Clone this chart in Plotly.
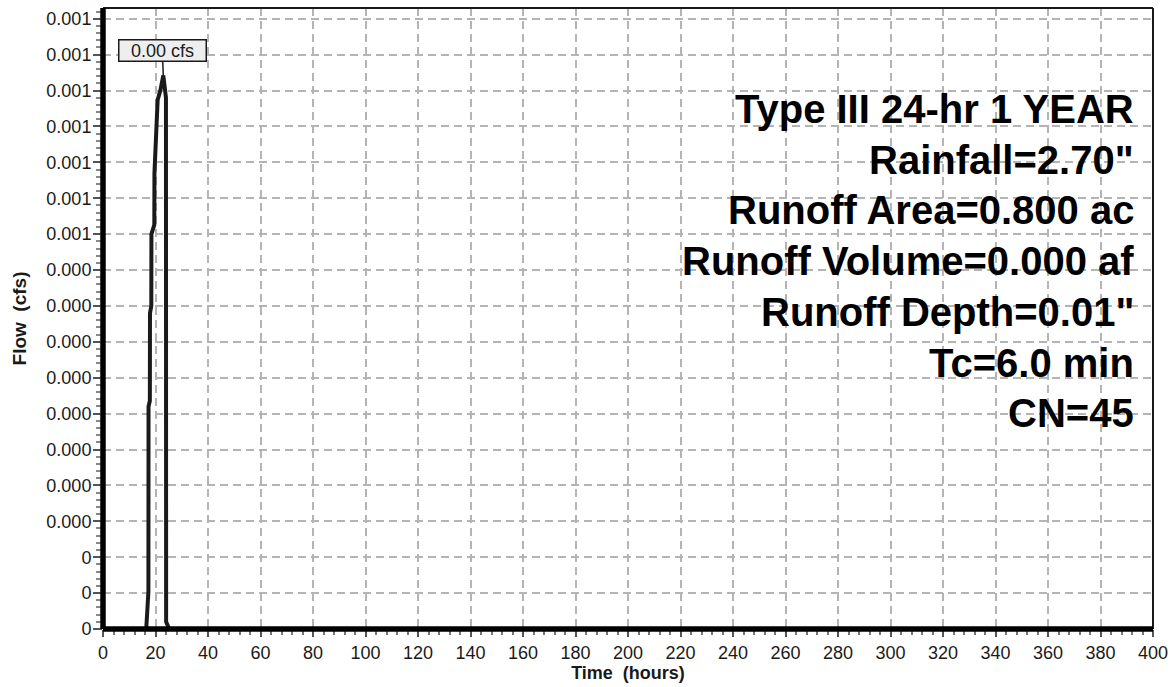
import plotly.graph_objects as go

# Runoff hydrograph (hours vs cfs)
hours = [0, 16.45, 16.55, 17.30, 17.35, 17.85, 17.90, 18.40, 18.45, 19.55, 19.60,
         20.33, 20.82, 21.84, 22.97, 23.98, 24.05, 25.25, 400]
flow_cfs = [0, 0, 0.000005, 0.000052, 0.000310, 0.000318, 0.000440, 0.000450,
            0.000550, 0.000563, 0.000635, 0.000695, 0.000737, 0.000750, 0.000771,
            0.000740, 0.000010, 0, 0]

# Axis ticks
y_tickvals = [0, 0.00005, 0.0001, 0.00015, 0.0002, 0.00025, 0.0003, 0.00035, 0.0004,
              0.00045, 0.0005, 0.00055, 0.0006, 0.00065, 0.0007, 0.00075, 0.0008, 0.00085]
y_ticktext = ["0", "0", "0", "0.000", "0.000", "0.000", "0.000", "0.000", "0.000",
              "0.000", "0.000", "0.001", "0.001", "0.001", "0.001", "0.001", "0.001", "0.001"]
x_tickvals = list(range(0, 401, 20))
x_ticktext = [str(v) for v in x_tickvals]

info_lines = ["Type III 24-hr 1 YEAR", "Rainfall=2.70\"", "Runoff Area=0.800 ac",
              "Runoff Volume=0.000 af", "Runoff Depth=0.01\"", "Tc=6.0 min", "CN=45"]

FONT = "Liberation Sans, Arial, sans-serif"
INK = "#1a1a1a"
W, H = 1176, 687
ML, MR, MT, MB = 103, 16, 8, 56.5
plot_h = H - MT - MB

fig = go.Figure()
fig.add_trace(go.Scatter(x=hours, y=flow_cfs, mode="lines",
                         line=dict(color=INK, width=4), hoverinfo="skip",
                         showlegend=False))

# peak label
peak = max(flow_cfs)
peak_t = hours[flow_cfs.index(peak)]
fig.add_annotation(x=peak_t, y=peak, xref="x", yref="y", text=f"{peak:.2f} cfs",
                   showarrow=True, arrowhead=0, arrowwidth=1.5, arrowcolor=INK,
                   ax=-1, ay=-25, font=dict(family=FONT, size=18, color=INK),
                   bgcolor="#eeeeee", bordercolor=INK, borderwidth=1.5,
                   width=86, height=20, borderpad=0)

# event summary text, right aligned
for i, line in enumerate(info_lines):
    y_px = 109 + i * 50.9
    fig.add_annotation(x=(1143 - ML) / (W - ML - MR), y=(H - MB - y_px) / plot_h,
                       xref="paper", yref="paper", xanchor="right", yanchor="middle",
                       text=f"<b>{line}</b>", showarrow=False,
                       font=dict(family=FONT, size=40, color="#000000"))

# frame: heavy left/bottom axes, light top/right
fig.add_shape(type="line", xref="paper", yref="paper", x0=0, x1=1, y0=1, y1=1,
              line=dict(color=INK, width=2))
fig.add_shape(type="line", xref="paper", yref="paper", x0=1, x1=1, y0=0, y1=1,
              line=dict(color=INK, width=2))
fig.add_shape(type="line", xref="paper", yref="paper", x0=0, x1=0, y0=0, y1=1,
              line=dict(color="#000000", width=5.5))
fig.add_shape(type="line", xref="paper", yref="paper", x0=0, x1=1, y0=0, y1=0,
              line=dict(color="#000000", width=5.5))

grid = dict(showgrid=True, gridcolor="#b4b4b4", gridwidth=1.5, griddash="8px,5px",
            zeroline=False, showline=False)

fig.update_xaxes(range=[0, 400], tickmode="array", tickvals=x_tickvals,
                 ticktext=x_ticktext, ticks="outside", ticklen=7, tickwidth=1.5,
                 tickcolor="#555555",
                 minor=dict(dtick=4, tick0=0, ticks="outside", ticklen=5,
                            tickcolor="#777777", tickwidth=1.5, showgrid=False),
                 tickfont=dict(family=FONT, size=18, color=INK),
                 title=dict(text="<b>Time\u00a0 (hours)</b>", standoff=4,
                            font=dict(family=FONT, size=18, color=INK)),
                 **grid)
fig.update_yaxes(range=[0, 0.000865], tickmode="array", tickvals=y_tickvals,
                 ticktext=y_ticktext, ticks="outside", ticklen=9, tickwidth=1.5,
                 tickcolor="#555555",
                 minor=dict(dtick=0.00001, tick0=0, ticks="outside", ticklen=6,
                            tickcolor="#888888", tickwidth=1.5, showgrid=False),
                 tickfont=dict(family=FONT, size=18, color=INK),
                 ticklabelstandoff=-2,
                 title=dict(text="<b>Flow\u00a0 (cfs)</b>", standoff=14,
                            font=dict(family=FONT, size=19, color=INK)),
                 **grid)

fig.update_layout(width=W, height=H, margin=dict(l=ML, r=MR, t=MT, b=MB),
                  paper_bgcolor="white", plot_bgcolor="white")

fig.write_html("out.html")
